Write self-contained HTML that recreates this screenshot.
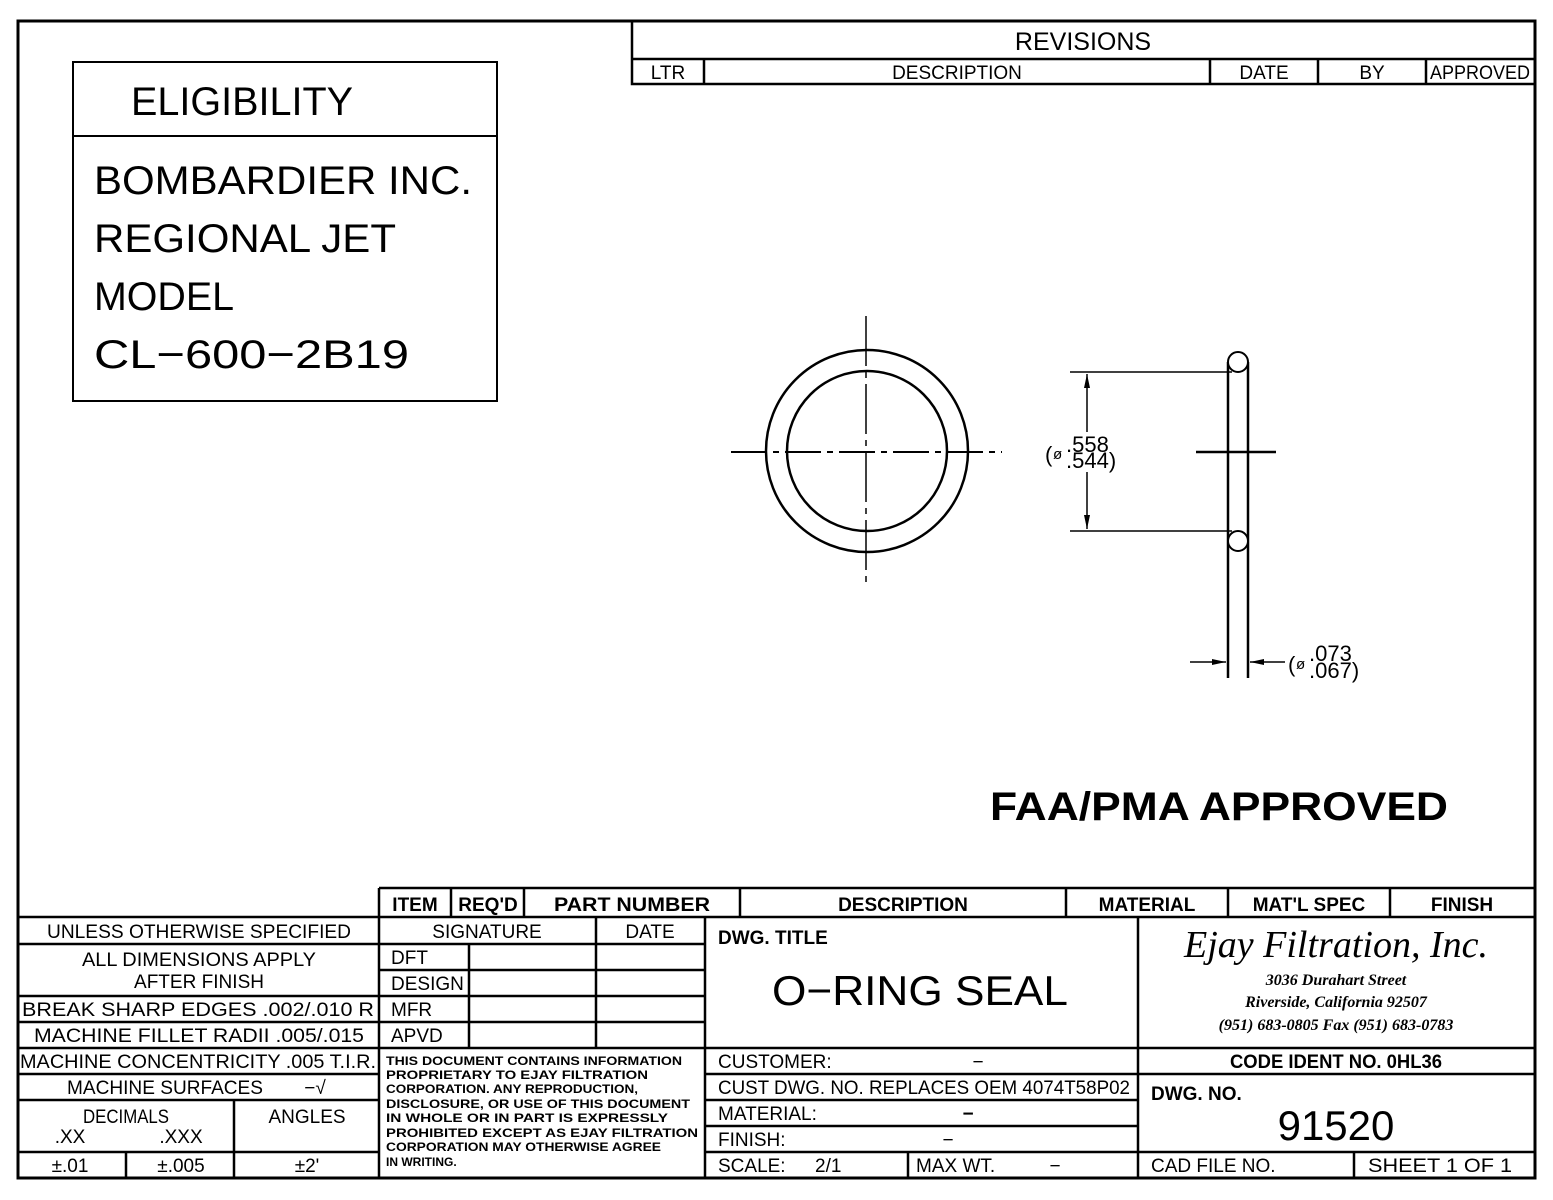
<!DOCTYPE html>
<html><head><meta charset="utf-8"><style>
html,body{margin:0;padding:0;background:#fff}
svg{display:block}
text{font-family:"Liberation Sans",sans-serif;fill:#000}
.c{text-anchor:middle}
.s{font-size:19px}
.b{font-weight:bold}
</style></head><body>
<svg width="1553" height="1200" viewBox="0 0 1553 1200" xmlns="http://www.w3.org/2000/svg">
<g stroke="#000" fill="none">
<path d="M18 21H1535V1178H18Z" stroke-width="3"/>
<path d="M632 21V84H1535M632 59H1535M704 59V84M1210 59V84M1318 59V84M1426 59V84" stroke-width="2.5"/>
<rect x="73" y="62" width="424" height="339" stroke-width="2"/>
<path d="M73 136H497" stroke-width="2"/>
<circle cx="867" cy="451" r="101" stroke-width="2.5"/>
<circle cx="867" cy="451" r="80" stroke-width="2.5"/>
<path d="M731 452H1002" stroke-width="2" stroke-dasharray="36,6,6,6"/>
<path d="M866 316V588" stroke-width="1.5" stroke-dasharray="50,6,6,6"/>
<path d="M1228 362V678M1248 362V678" stroke-width="2.5"/>
<circle cx="1238" cy="362" r="10" stroke-width="2" fill="#fff"/>
<circle cx="1238" cy="541" r="10" stroke-width="2" fill="#fff"/>
<path d="M1196 452H1276" stroke-width="2.5"/>
<path d="M1070 372H1232M1070 531H1232M1087 374V432M1087 472V529" stroke-width="1.5"/>
<path d="M1190 662H1226M1250 662H1285" stroke-width="1.5"/>
</g>
<g fill="#000">
<path d="M1087 374l-3 14h6z"/><path d="M1087 529l-3 -14h6z"/>
<path d="M1226 662l-14 -3v6z"/><path d="M1250 662l14 -3v6z"/>
</g>
<text x="1083" y="50" class="c" font-size="25">REVISIONS</text>
<text x="668" y="79" class="c s">LTR</text>
<text x="957" y="79" class="c s">DESCRIPTION</text>
<text x="1264" y="79" class="c s">DATE</text>
<text x="1372" y="79" class="c s">BY</text>
<text x="1480" y="79" class="c s" textLength="100" lengthAdjust="spacingAndGlyphs">APPROVED</text>
<text x="131" y="115" font-size="40" textLength="222" lengthAdjust="spacingAndGlyphs">ELIGIBILITY</text>
<text x="94" y="194" font-size="40" textLength="378" lengthAdjust="spacingAndGlyphs">BOMBARDIER INC.</text>
<text x="94" y="252" font-size="40" textLength="302" lengthAdjust="spacingAndGlyphs">REGIONAL JET</text>
<text x="94" y="310" font-size="40" textLength="140" lengthAdjust="spacingAndGlyphs">MODEL</text>
<text x="94" y="368" font-size="40" textLength="315" lengthAdjust="spacingAndGlyphs">CL−600−2B19</text>
<text x="1045" y="462" font-size="22">(</text>
<text x="1053" y="459" font-size="15">ø</text>
<text x="1066" y="452" font-size="22">.558</text>
<text x="1066" y="468" font-size="22">.544)</text>
<text x="1288" y="672" font-size="22">(</text>
<text x="1296" y="669" font-size="15">ø</text>
<text x="1309" y="661" font-size="22">.073</text>
<text x="1309" y="678" font-size="22">.067)</text>
<text x="990" y="820" font-size="40" font-weight="900" textLength="458" lengthAdjust="spacingAndGlyphs">FAA/PMA APPROVED</text>
<g stroke="#000" fill="none" stroke-width="2.5">
<path d="M379 888H1535M18 917H1535M379 888V1178M18 1178H1535"/>
<path d="M451 888V917M524 888V917M740 888V917M1066 888V917M1228 888V917M1390 888V917"/>
<path d="M18 944H705M18 996H379M18 1022H705M18 1048H1535M18 1074H379M18 1100H379M18 1152H379M234 1100V1178M126 1152V1178"/>
<path d="M379 970H705M379 996H705M469 944V1048M596 917V1048M705 917V1178M1138 917V1178"/>
<path d="M705 1074H1535M705 1100H1138M705 1126H1138M705 1152H1535M908 1152V1178M1354 1152V1178"/>
</g>
<g class="s">
<text x="199" y="938" class="c s" textLength="304" lengthAdjust="spacingAndGlyphs">UNLESS OTHERWISE SPECIFIED</text>
<text x="199" y="966" class="c s" textLength="234" lengthAdjust="spacingAndGlyphs">ALL DIMENSIONS APPLY</text>
<text x="199" y="988" class="c s" textLength="130" lengthAdjust="spacingAndGlyphs">AFTER FINISH</text>
<text x="22" y="1016" class="s" textLength="352" lengthAdjust="spacingAndGlyphs">BREAK SHARP EDGES .002/.010 R</text>
<text x="199" y="1042" class="c s" textLength="330" lengthAdjust="spacingAndGlyphs">MACHINE FILLET RADII .005/.015</text>
<text x="20" y="1068" class="s" textLength="356" lengthAdjust="spacingAndGlyphs">MACHINE CONCENTRICITY .005 T.I.R.</text>
<text x="165" y="1094" class="c s" textLength="196" lengthAdjust="spacingAndGlyphs">MACHINE SURFACES</text>
<text x="315" y="1094" class="c s">−√</text>
<text x="126" y="1123" class="c s" textLength="86" lengthAdjust="spacingAndGlyphs">DECIMALS</text>
<text x="70" y="1143" class="c s">.XX</text>
<text x="181" y="1143" class="c s">.XXX</text>
<text x="307" y="1123" class="c s">ANGLES</text>
<text x="70" y="1172" class="c s">±.01</text>
<text x="181" y="1172" class="c s">±.005</text>
<text x="307" y="1172" class="c s">±2'</text>
<text x="415" y="911" class="c s b">ITEM</text>
<text x="488" y="911" class="c s b">REQ'D</text>
<text x="632" y="911" class="c s b" textLength="156" lengthAdjust="spacingAndGlyphs">PART NUMBER</text>
<text x="903" y="911" class="c s b">DESCRIPTION</text>
<text x="1147" y="911" class="c s b">MATERIAL</text>
<text x="1309" y="911" class="c s b">MAT'L SPEC</text>
<text x="1462" y="911" class="c s b">FINISH</text>
<text x="487" y="938" class="c s">SIGNATURE</text>
<text x="650" y="938" class="c s">DATE</text>
<text x="391" y="964" class="s">DFT</text>
<text x="391" y="990" class="s">DESIGN</text>
<text x="391" y="1016" class="s">MFR</text>
<text x="391" y="1042" class="s">APVD</text>
</g>
<g font-size="12" font-weight="bold">
<text x="386" y="1065" textLength="296" lengthAdjust="spacingAndGlyphs">THIS DOCUMENT CONTAINS INFORMATION</text>
<text x="386" y="1079" textLength="262" lengthAdjust="spacingAndGlyphs">PROPRIETARY TO EJAY FILTRATION</text>
<text x="386" y="1093" textLength="252" lengthAdjust="spacingAndGlyphs">CORPORATION. ANY REPRODUCTION,</text>
<text x="386" y="1108" textLength="304" lengthAdjust="spacingAndGlyphs">DISCLOSURE, OR USE OF THIS DOCUMENT</text>
<text x="386" y="1122" textLength="282" lengthAdjust="spacingAndGlyphs">IN WHOLE OR IN PART IS EXPRESSLY</text>
<text x="386" y="1137" textLength="312" lengthAdjust="spacingAndGlyphs">PROHIBITED EXCEPT AS EJAY FILTRATION</text>
<text x="386" y="1151" textLength="275" lengthAdjust="spacingAndGlyphs">CORPORATION MAY OTHERWISE AGREE</text>
<text x="386" y="1166">IN WRITING.</text>
</g>
<text x="718" y="944" class="s b">DWG. TITLE</text>
<text x="920" y="1005" class="c" font-size="42" textLength="296" lengthAdjust="spacingAndGlyphs">O−RING SEAL</text>
<text x="1336" y="957" class="c" font-style="italic" font-size="38" style="font-family:'Liberation Serif',serif">Ejay Filtration, Inc.</text>
<g font-style="italic" font-weight="bold" font-size="16">
<text x="1336" y="985" class="c" style="font-family:'Liberation Serif',serif">3036 Durahart Street</text>
<text x="1336" y="1007" class="c" style="font-family:'Liberation Serif',serif">Riverside, California 92507</text>
<text x="1336" y="1030" class="c" style="font-family:'Liberation Serif',serif">(951) 683-0805  Fax (951) 683-0783</text>
</g>
<g>
<text x="718" y="1068" class="s">CUSTOMER:</text>
<text x="978" y="1068" class="c s">−</text>
<text x="718" y="1094" class="s" textLength="412" lengthAdjust="spacingAndGlyphs">CUST DWG. NO. REPLACES OEM 4074T58P02</text>
<text x="718" y="1120" class="s">MATERIAL:</text>
<text x="968" y="1120" class="c s b">−</text>
<text x="718" y="1146" class="s">FINISH:</text>
<text x="948" y="1146" class="c s">−</text>
<text x="718" y="1172" class="s">SCALE:</text>
<text x="815" y="1172" class="s">2/1</text>
<text x="916" y="1172" class="s">MAX WT.</text>
<text x="1055" y="1172" class="c s">−</text>
<text x="1336" y="1068" class="c s b" textLength="212" lengthAdjust="spacingAndGlyphs">CODE IDENT NO. 0HL36</text>
<text x="1151" y="1100" class="s b">DWG. NO.</text>
<text x="1336" y="1140" class="c" font-size="42">91520</text>
<text x="1151" y="1172" class="s">CAD FILE NO.</text>
<text x="1368" y="1172" class="s" textLength="144" lengthAdjust="spacingAndGlyphs">SHEET 1 OF 1</text>
</g>
</svg>
</body></html>
